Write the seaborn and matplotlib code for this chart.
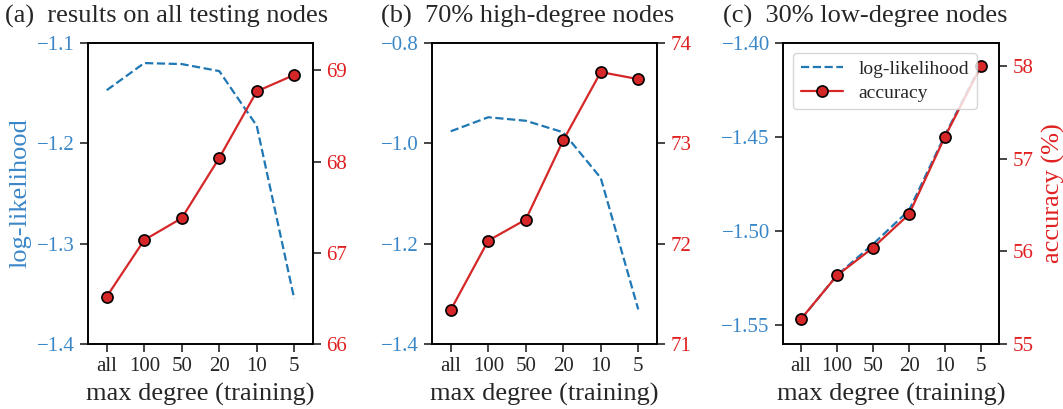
import numpy as np
import pandas as pd
import matplotlib
matplotlib.use("Agg")
import matplotlib.pyplot as plt
import seaborn as sns

sns.set_style("ticks")
plt.rcParams['font.family'] = ['Liberation Serif', 'DejaVu Serif']
plt.rcParams['mathtext.fontset'] = 'stix'

categories = ["all", "100", "50", "20", "10", "5"]
titles = ["(a)  results on all testing nodes", "(b)  70% high-degree nodes", "(c)  30% low-degree nodes"]

ll_a = [-1.147, -1.120, -1.121, -1.128, -1.1825, -1.355]
acc_a = [66.52, 67.14, 67.38, 68.04, 68.77, 68.95]
ll_b = [-0.976, -0.948, -0.955, -0.978, -1.069, -1.331]
acc_b = [71.34, 72.03, 72.24, 73.03, 73.71, 73.64]
ll_c = [-1.547, -1.5235, -1.507, -1.489, -1.449, -1.4115]
acc_c = [55.27, 55.74, 56.04, 56.40, 57.24, 58.00]

ll_ticks = [[-1.4, -1.3, -1.2, -1.1], [-1.4, -1.2, -1.0, -0.8], [-1.55, -1.50, -1.45, -1.40]]
ll_fmt = ["{:.1f}", "{:.1f}", "{:.2f}"]
ll_lims = [(-1.4, -1.1), (-1.4, -0.8), (-1.5601, -1.40)]
acc_ticks = [[66, 67, 68, 69], [71, 72, 73, 74], [55, 56, 57, 58]]
acc_lims = [(66, 69.3), (71, 74), (55, 58.25)]

BLUE = "#1f77b4"
RED = "#d62728"
BLUE_T = "#3a87c8"
RED_T = "#e02020"

W, H = 1063, 409
fig = plt.figure(figsize=(W / 100, H / 100), dpi=100)

lefts = [88, 432, 783]
widths = [225, 225, 216]
top, bottom = 43, 344
title_x = [5, 381, 723]

lls = [ll_a, ll_b, ll_c]
accs = [acc_a, acc_b, acc_c]
x = np.arange(len(categories))

for i in range(3):
    ax = fig.add_axes([lefts[i] / W, 1 - bottom / H, widths[i] / W, (bottom - top) / H])
    ax2 = ax.twinx()
    df = pd.DataFrame({"x": x, "ll": lls[i], "acc": accs[i]})
    sns.lineplot(data=df, x="x", y="ll", ax=ax, color=BLUE, linestyle="--",
                 linewidth=1.6, label="log-likelihood", legend=False)
    sns.lineplot(data=df, x="x", y="acc", ax=ax2, color=RED, linewidth=1.6,
                 marker="o", markersize=8, markerfacecolor=RED, markeredgecolor="black",
                 markeredgewidth=1.2, label="accuracy", legend=False)
    ax.set_xlim(-0.5, 5.5)
    ax.set_xticks(x)
    ax.set_xticklabels(categories)
    ax.set_ylim(*ll_lims[i])
    ax.set_yticks(ll_ticks[i])
    ax.set_yticklabels([ll_fmt[i].format(v).replace("-", "\u2212") for v in ll_ticks[i]])
    ax2.set_ylim(*acc_lims[i])
    ax2.set_yticks(acc_ticks[i])
    ax2.set_yticklabels([str(v) for v in acc_ticks[i]])
    ax.tick_params(axis="y", labelcolor=BLUE_T, labelsize=15, length=6, width=1.2)
    ax2.tick_params(axis="y", labelcolor=RED_T, labelsize=15, length=6, width=1.2)
    ax.tick_params(axis="x", labelsize=15, length=6, width=1.2)
    for a in (ax, ax2):
        for s in a.spines.values():
            s.set_linewidth(1.2)
            s.set_color("black")
    ax.set_ylabel("")
    ax2.set_ylabel("")
    ax.set_xlabel("max degree (training)", fontsize=19, labelpad=5)
    fig.text(title_x[i] / W, 1 - 16 / H, titles[i], fontsize=19, ha="left", va="center")
    if i == 0:
        ax.set_ylabel("log-likelihood", fontsize=19, color=BLUE_T, labelpad=4)
    if i == 2:
        ax2.set_ylabel("accuracy (%)", fontsize=19, color=RED_T, labelpad=6)
        h1, l1 = ax.get_legend_handles_labels()
        h2, l2 = ax2.get_legend_handles_labels()
        ax2.legend(h1 + h2, l1 + l2, loc="upper left", fontsize=14, frameon=True,
                   fancybox=True, framealpha=0.8, edgecolor="#cccccc",
                   handlelength=2.2, borderpad=0.4, labelspacing=0.3)

fig.savefig("out.png", dpi=100)
